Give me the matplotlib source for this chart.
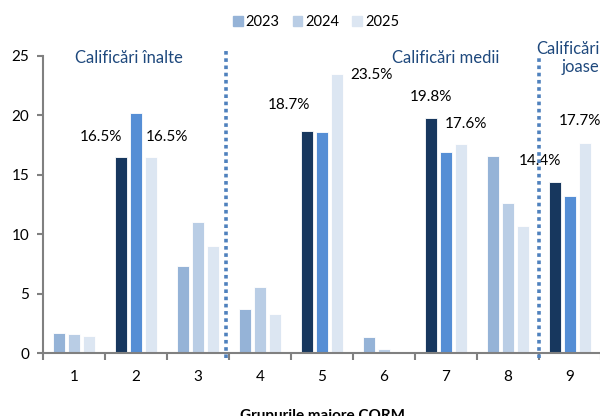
import numpy as np
import matplotlib.pyplot as plt

plt.rcParams['font.family'] = ['Lato', 'DejaVu Sans']

grupe = ["1", "2", "3", "4", "5", "6", "7", "8", "9"]
ani = ["2023", "2024", "2025"]
v2023 = [1.7, 16.5, 7.3, 3.7, 18.7, 1.4, 19.8, 16.6, 14.4]
v2024 = [1.65, 20.2, 11.0, 5.55, 18.6, 0.4, 16.9, 12.6, 13.2]
v2025 = [1.45, 16.5, 9.0, 3.3, 23.5, 0.1, 17.6, 10.7, 17.7]

# grupele evidentiate (cu etichete) au alta paleta
evidentiate = [1, 4, 6, 8]
culori_normale = ["#95B3D7", "#B9CDE5", "#DCE6F2"]
culori_evid = ["#17375E", "#558ED5", "#DCE6F2"]

# etichete: (grupa, serie, dx, dy)
etichete = [(1, 0, -0.32, 1.7), (1, 2, 0.26, 1.7),
            (4, 0, -0.29, 2.2), (4, 2, 0.56, -0.1),
            (6, 0, 0.0, 1.7), (6, 2, 0.08, 1.7),
            (8, 0, -0.24, 1.8), (8, 2, -0.08, 1.8)]

fig = plt.figure(figsize=(6, 4.16), dpi=100)
ax = fig.add_axes([0.0717, 0.1507, 0.93, 0.7152])

x = np.arange(len(grupe))
serii = [v2023, v2024, v2025]
latime = 0.205
pas = 0.242
for i, vals in enumerate(serii):
    culori = [culori_evid[i] if g in evidentiate else culori_normale[i] for g in x]
    ax.bar(x + (i - 1) * pas, vals, latime, color=culori,
           edgecolor="white", linewidth=0.6, label=ani[i], zorder=2)

for g, s, dx, dy in etichete:
    v = serii[s][g]
    ax.text(x[g] + (s - 1) * pas + dx, v + dy, f"{v:.1f}%",
            ha="center", va="center", fontsize=11, color="black")

# separatoare intre nivelurile de calificare
for xs, ytop in [(2.45, 25.5), (7.5, 25.0)]:
    ax.plot([xs, xs], [-0.4, ytop], ls=(0, (1, 1)), color="#4F81BD",
            lw=2.6, clip_on=False, zorder=3)

txt_col = "#1F497D"
ax.text(0.88, 24.8, "Calificări înalte", ha="center", va="center",
        fontsize=12, color=txt_col)
ax.text(5.99, 24.8, "Calificări medii", ha="center", va="center",
        fontsize=12, color=txt_col)
ax.text(8.47, 24.8, "Calificări\njoase", ha="right", va="center",
        multialignment="right", fontsize=12, color=txt_col, linespacing=1.15)

ax.set_xlim(-0.5, 8.5)
ax.set_ylim(0, 25)
ax.set_yticks(range(0, 26, 5))
ax.set_xticks(x)
ax.set_xticklabels(grupe)
ax.set_xticks(np.arange(-0.5, 9, 1), minor=True)
ax.tick_params(axis="x", which="major", length=0, pad=12, labelsize=11)
ax.tick_params(axis="x", which="minor", length=5, color="#808080", width=1.5)
ax.tick_params(axis="y", length=4, color="#808080", width=1.5, labelsize=11, pad=6)

for side in ["top", "right"]:
    ax.spines[side].set_visible(False)
for side in ["left", "bottom"]:
    ax.spines[side].set_color("#808080")
    ax.spines[side].set_linewidth(1.5)

ax.set_xlabel("Grupurile majore CORM", fontsize=11, fontweight="bold", labelpad=18)

handles = [plt.Rectangle((0, 0), 1, 1, color=c) for c in culori_normale]
fig.legend(handles, ani, loc="center", bbox_to_anchor=(0.527, 0.947), ncol=3,
           frameon=False, fontsize=10.5, handlelength=0.65, handleheight=0.65,
           handletextpad=0.2, columnspacing=0.9)

fig.savefig("out.png", dpi=100)
